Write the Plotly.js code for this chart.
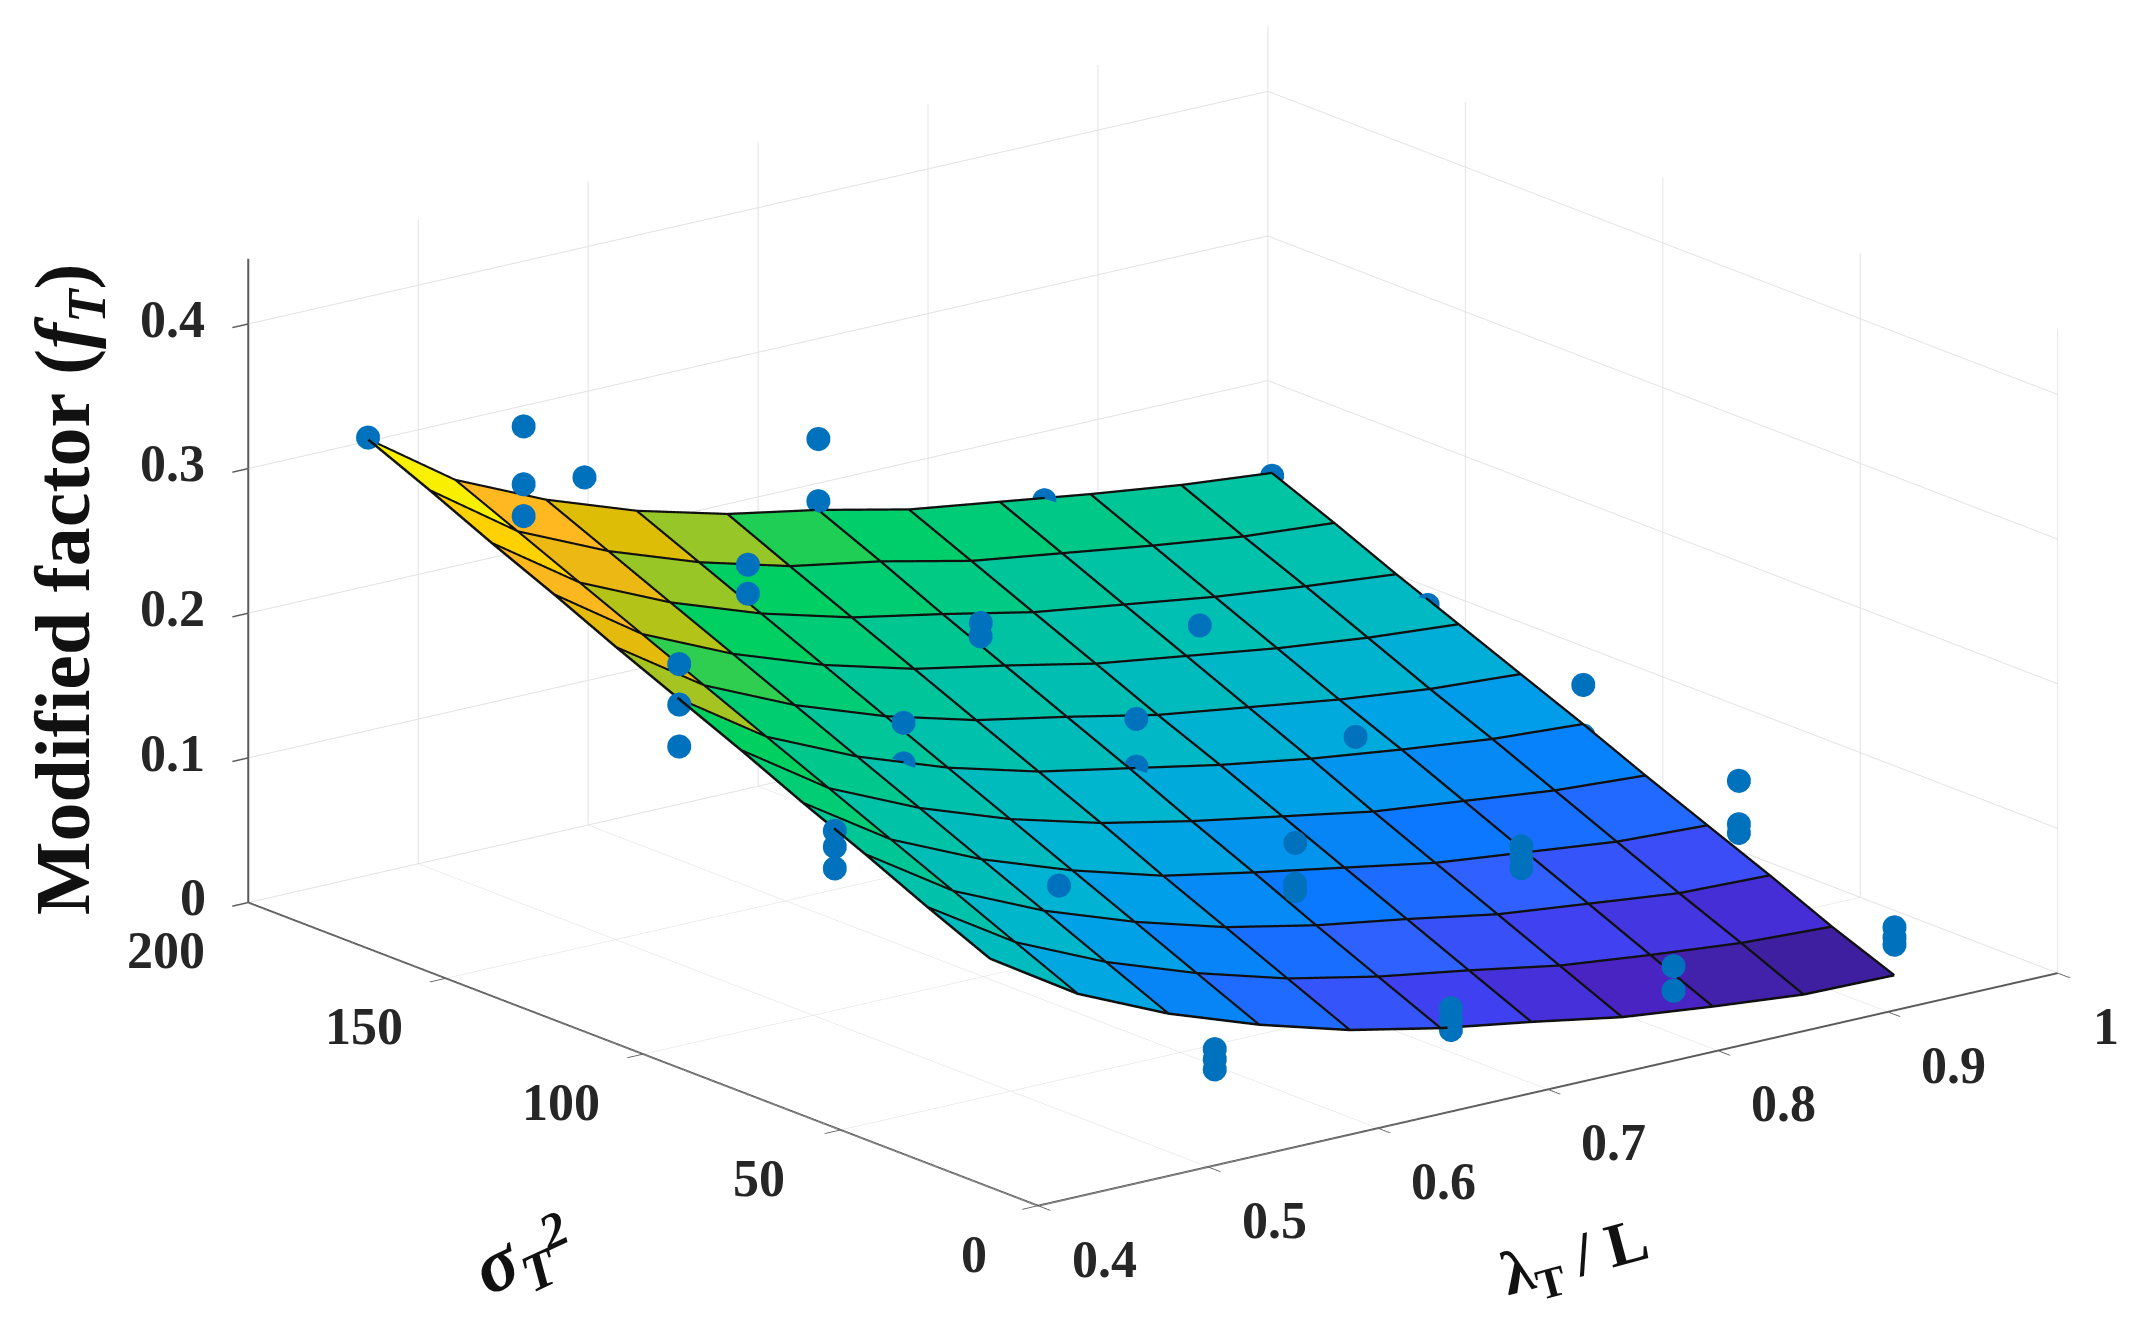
<!DOCTYPE html>
<html>
<head>
<meta charset="utf-8">
<script src="https://cdn.plot.ly/plotly-3.0.1.min.js"></script>
<style>html,body{margin:0;padding:0;background:#fff}#plot{width:2142px;height:1328px}</style>
</head>
<body>
<div id="plot"></div>
<script>
// lambda_T / L grid
var lambdaGrid = [0.402,0.4534,0.5068,0.5602,0.6136,0.667,0.7204,0.7738,0.8272,0.8806,0.934];
// sigma_T^2 grid
var sigmaGrid = [13,28.8,44.5,60.3,76,91.8,107.6,123.3,139.1,154.8,170.6];
// modified factor, one row per sigma value
var factorGrid = [
 [.156,.118,.090,.068,.050,.037,.027,.016,.009,.003,.002],
 [.175,.137,.109,.087,.069,.056,.046,.035,.028,.022,.019],
 [.195,.156,.128,.106,.088,.075,.065,.054,.047,.040,.038],
 [.214,.175,.147,.125,.107,.095,.084,.073,.066,.059,.056],
 [.234,.194,.166,.144,.127,.114,.103,.092,.085,.078,.074],
 [.253,.213,.185,.163,.146,.134,.122,.112,.104,.097,.093],
 [.272,.232,.204,.182,.165,.153,.140,.131,.122,.115,.111],
 [.292,.251,.223,.201,.184,.172,.159,.150,.141,.134,.129],
 [.311,.270,.242,.220,.203,.191,.178,.169,.160,.153,.147],
 [.331,.289,.261,.239,.222,.211,.197,.188,.179,.171,.166],
 [.350,.308,.280,.258,.2415,.230,.216,.207,.198,.190,.184]
];
// measured points
var pointLambda = [.534,.534,.534,.673,.673,.673,.804,.804,.934,.934,.934,
 .402,.402,.402,.503,.673,.642,.642,.806,.806,.806,.934,.934,.934,
 .402,.402,.402,.534,.534,.671,.671,.8,.934,.934,
 .402,.402,.402,.534,.534,.671,.640,.769,.934,
 .402,.534,.667,.667,.8,.934];
var pointSigma = [13,13,13,13,13,13,13,13,13,13,13,
 52.4,52.4,52.4,39.1,52.4,39.1,39.1,52.4,52.4,52.4,52.4,52.4,52.4,
 91.8,91.8,91.8,91.8,91.8,91.8,91.8,91.8,91.8,91.8,
 131.2,131.2,131.2,131.2,131.2,131.2,117.9,117.9,131.2,
 170.6,172.6,170.6,170.6,170.6,170.6];
var pointFactor = [.059,.052,.045,.050,.042,.035,.044,.027,.036,.029,.024,
 .204,.193,.178,.153,.123,.117,.112,.085,.078,.070,.096,.066,.060,
 .278,.250,.221,.202,.174,.168,.135,.121,.121,.086,
 .401,.361,.339,.270,.250,.193,.206,.179,.135,
 .352,.287,.280,.237,.202,.183];
var factorColors = [[0,'#3a1c98'],[.035,'#3f1fa0'],[.07,'#4a25c8'],[.12,'#4040f0'],[.18,'#3060ff'],[.24,'#0a78ff'],[.32,'#00a0e8'],[.39,'#00b4d0'],[.48,'#00c0b0'],[.545,'#00c4a0'],[.606,'#00cc78'],[.68,'#00d060'],[.703,'#60cc40'],[.736,'#a8c420'],[.78,'#d8c000'],[.803,'#ecb814'],[.864,'#ffb820'],[.91,'#ffd000'],[.97,'#f8f000'],[1,'#f8f800']];
var lambdaTicks = [0.4,0.5,0.6,0.7,0.8,0.9,1];
var sigmaTicks = [0,50,100,150,200];
var factorTicks = [0,0.1,0.2,0.3,0.4];

var vx=[],vy=[],vz=[],fi=[],fj=[],fk=[],fc=[];
var n=lambdaGrid.length,m=sigmaGrid.length;
sigmaGrid.forEach(function(s,r){lambdaGrid.forEach(function(l,c){vx.push(l);vy.push(s);vz.push(factorGrid[r][c]);});});
for(var r=0;r<m-1;r++)for(var c=0;c<n-1;c++){
  var a=r*n+c,b=a+1,d=a+n,e=d+1;
  var avg=(vz[a]+vz[b]+vz[d]+vz[e])/4;
  fi.push(a,a);fj.push(b,e);fk.push(e,d);fc.push(avg,avg);
}
var lx=[],ly=[],lz=[];
for(var r=0;r<m;r++){for(var c=0;c<n;c++){lx.push(lambdaGrid[c]);ly.push(sigmaGrid[r]);lz.push(factorGrid[r][c]+.0006);}lx.push(null);ly.push(null);lz.push(null);}
for(var c=0;c<n;c++){for(var r=0;r<m;r++){lx.push(lambdaGrid[c]);ly.push(sigmaGrid[r]);lz.push(factorGrid[r][c]+.0006);}lx.push(null);ly.push(null);lz.push(null);}

function axis(range,ticks){return {range:range,tickmode:'array',tickvals:ticks,showticklabels:false,showgrid:true,gridcolor:'#e2e2e2',gridwidth:2,
  showline:true,linecolor:'#5a5a5a',linewidth:4,ticks:'outside',ticklen:20,tickwidth:3,tickcolor:'#5a5a5a',showbackground:false,zeroline:false,showspikes:false,title:{text:''}};}
var data=[
 {type:'mesh3d',x:vx,y:vy,z:vz,i:fi,j:fj,k:fk,intensity:fc,intensitymode:'cell',colorscale:factorColors,cmin:0,cmax:.33,showscale:false,flatshading:true,
  lighting:{ambient:1,diffuse:0,specular:0,roughness:1,fresnel:0},hoverinfo:'skip'},
 {type:'scatter3d',mode:'lines',x:lx,y:ly,z:lz,line:{color:'#101010',width:5},hoverinfo:'skip'},
 {type:'scatter3d',mode:'markers',x:pointLambda,y:pointSigma,z:pointFactor,marker:{color:'#0072BD',size:14,line:{width:0},opacity:1},hoverinfo:'skip'}
];
function tl(x,y,z,t,dx,dy){return {x:x,y:y,z:z,text:'<b>'+t+'</b>',showarrow:false,xshift:dx,yshift:dy,xanchor:'center',yanchor:'middle',font:{family:'Liberation Serif',size:52,color:'#262626'}};}
var sceneNotes=[];
lambdaTicks.forEach(function(v){sceneNotes.push(tl(v,0,0,String(v),v===1?48:66,-53));});
sigmaTicks.forEach(function(v){sceneNotes.push(tl(.4,v,0,String(v),v===0?-64:-82,-48));});
factorTicks.forEach(function(v){sceneNotes.push(tl(.4,200,v,String(v),v===0?-55:-76,5));});
function txt(t,sx,sy,size,angle){return {xref:'paper',yref:'paper',x:sx/2142,y:1-sy/1328,xanchor:'center',yanchor:'middle',text:t,showarrow:false,textangle:angle,font:{family:'Liberation Serif',size:size,color:'#111'}};}
var layout={width:2142,height:1328,paper_bgcolor:'#fff',margin:{l:0,r:0,t:0,b:0},showlegend:false,
 scene:{domain:{x:[.0766,1],y:[.0721,1]},aspectmode:'manual',aspectratio:{x:2.09,y:2.10,z:1.094},
  camera:{projection:{type:'orthographic'},eye:{x:-1.75,y:-2.27,z:.888},up:{x:0,y:0,z:1},center:{x:0,y:0,z:0}},
  xaxis:axis([.4,1],lambdaTicks),yaxis:axis([0,200],sigmaTicks),zaxis:axis([0,.445],factorTicks),annotations:sceneNotes},
 annotations:[
  txt('<b>Modified factor (<i>f<sub>T</sub></i>)</b>',68,590,78,-90),
  txt('<b><i>σ<sub>T</sub></i></b>',514,1262,76,-25),
  txt('<b><i>2</i></b>',553,1230,50,-25),
  txt('<b>λ<sub>T</sub> / L</b>',1575,1260,62,-15)
 ]};
Plotly.newPlot('plot',data,layout,{displayModeBar:false});
</script>
</body>
</html>
